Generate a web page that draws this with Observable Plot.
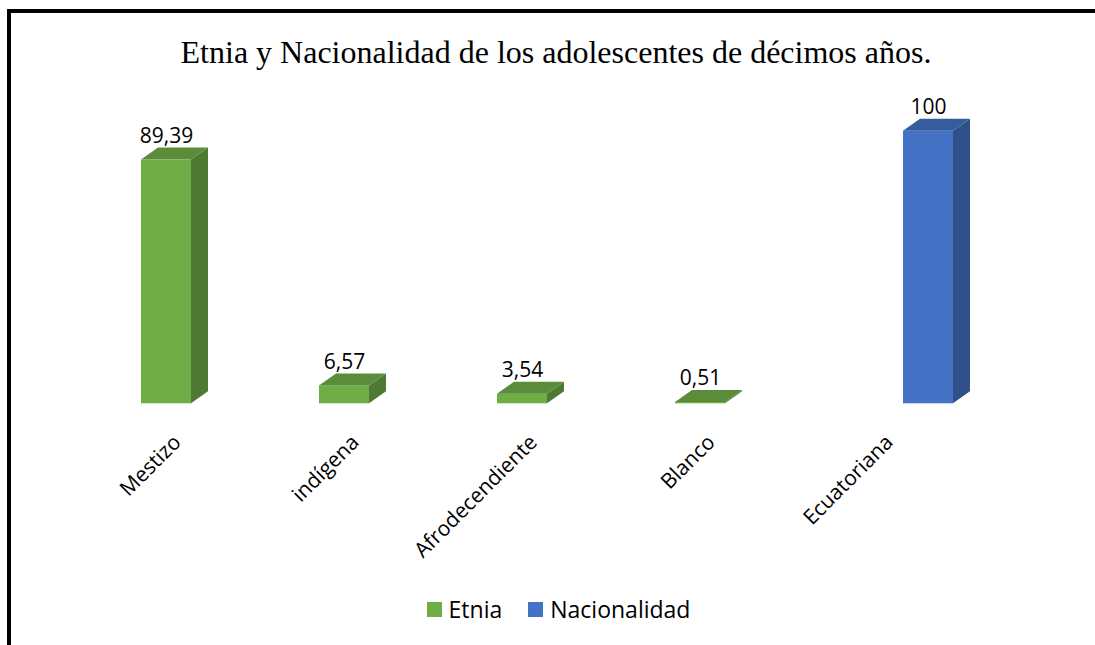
<!DOCTYPE html>
<html>
<head>
<meta charset="utf-8">
<script src="https://cdn.jsdelivr.net/npm/d3@7"></script>
<script src="https://cdn.jsdelivr.net/npm/@observablehq/plot@0.6"></script>
<style>
  html, body { margin: 0; padding: 0; background: #fff; }
  body { width: 1095px; height: 645px; overflow: hidden; position: relative; font-family: "Open Sans", sans-serif; }
  #frame { position: absolute; left: 7px; top: 9px; width: 1200px; height: 800px; border-left: 4px solid #000; border-top: 4px solid #000; box-sizing: border-box; }
  #title { position: absolute; left: 0; top: 36px; width: 1112px; text-align: center; font-family: "Liberation Serif", "Times New Roman", serif; font-size: 32px; line-height: 32px; color: #000; white-space: nowrap; }
  #chart { position: absolute; left: 0; top: 70px; }
  #legend { position: absolute; left: 0; top: 598px; width: 1117px; height: 23px; display: flex; justify-content: center; align-items: center; font-size: 23px; line-height: 23px; color: #000; }
  .item { display: flex; align-items: center; margin: 0 13px; }
  .sw { width: 15px; height: 15px; margin-right: 7px; }
</style>
</head>
<body>
<div id="frame"></div>
<div id="title">Etnia y Nacionalidad de los adolescentes de décimos años.</div>
<div id="chart"></div>
<div id="legend"></div>
<script>
// ---- data ----
const categories = ["Mestizo", "indígena", "Afrodecendiente", "Blanco", "Ecuatoriana"];
const series = ["Etnia", "Nacionalidad"];
const seriesOfCategory = ["Etnia", "Etnia", "Etnia", "Etnia", "Nacionalidad"];
const values = [89.39, 6.57, 3.54, 0.51, 100];
const valueLabels = ["89,39", "6,57", "3,54", "0,51", "100"];
const colors = ["#70AD47", "#4472C4"];

const data = categories.map((c, i) => ({
  category: c, series: seriesOfCategory[i], value: values[i], label: valueLabels[i]
}));

// 3D depth of the columns (style)
const DEPTH_X = 17, DEPTH_Y = 12;

function draw3d(index, scales, vals, dimensions, context, next) {
  const g = next(index, scales, vals, dimensions, context);
  const sel = d3.select(g);
  const rects = sel.selectAll("rect").nodes();
  rects.forEach(r => {
    const x = +r.getAttribute("x"), y = +r.getAttribute("y");
    const w = +r.getAttribute("width"), h = +r.getAttribute("height");
    const fill = r.getAttribute("fill") || sel.attr("fill");
    const side = d3.color(fill).darker(1).formatHex();
    const top = d3.color(fill).darker(0.6).formatHex();
    const x2 = x + w, yb = y + h;
    sel.append("polygon")
      .attr("points", [[x2, y], [x2 + DEPTH_X, y - DEPTH_Y], [x2 + DEPTH_X, yb - DEPTH_Y], [x2, yb]].map(p => p.join(",")).join(" "))
      .attr("fill", side);
    sel.append("polygon")
      .attr("points", [[x, y], [x + DEPTH_X, y - DEPTH_Y], [x2 + DEPTH_X, y - DEPTH_Y], [x2, y]].map(p => p.join(",")).join(" "))
      .attr("fill", top);
  });
  return g;
}

const plot = Plot.plot({
  width: 1095,
  height: 450,
  marginLeft: 62,
  marginRight: 63,
  marginTop: 60.7,
  marginBottom: 116.7,
  style: { fontFamily: "Open Sans", fontSize: "21px", color: "#000", background: "transparent", overflow: "visible" },
  fx: { domain: categories, paddingInner: 0.44, paddingOuter: 0.44, label: null },
  x: { domain: series, paddingInner: 0, paddingOuter: 0, axis: null },
  y: { domain: [0, 100], axis: null },
  color: { domain: series, range: colors },
  marks: [
    Plot.barY(data, { fx: "category", x: "series", y: "value", fill: "series", inset: 0, render: draw3d }),
    Plot.text(data, { fx: "category", x: "series", y: "value", text: "label", lineAnchor: "bottom", dy: -17, fontSize: 21, fill: "#000" }),
    Plot.axisFx({ anchor: "bottom", tickRotate: -45, tickSize: 0, tickPadding: 35, dx: -14, fontSize: 21, label: null })
  ]
});
document.getElementById("chart").appendChild(plot);

// legend
const legend = d3.select("#legend");
series.forEach((s, i) => {
  const it = legend.append("div").attr("class", "item");
  it.append("div").attr("class", "sw").style("background", colors[i]);
  it.append("span").text(s);
});
</script>
</body>
</html>
